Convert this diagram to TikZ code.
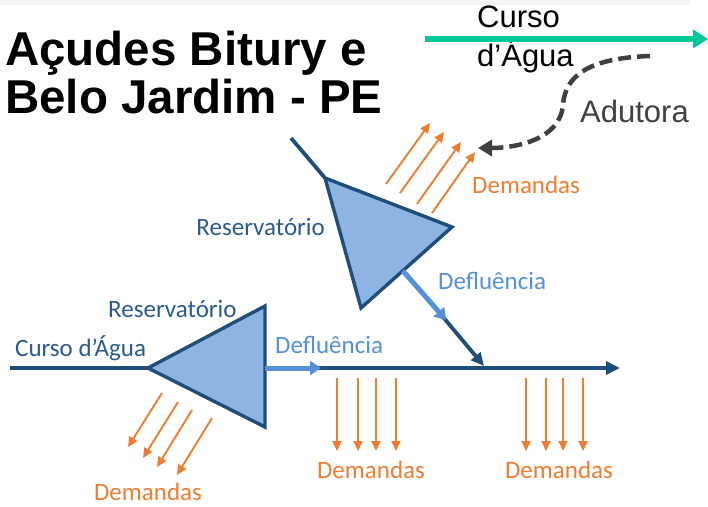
\documentclass[tikz,border=0pt]{standalone}
\usepackage{fontspec}
\setmainfont{Carlito}
\newfontfamily\arialf{Liberation Sans}
\usetikzlibrary{arrows.meta,calc}
\definecolor{rivblue}{HTML}{1F4E79}
\definecolor{resfill}{HTML}{8EB4E3}
\definecolor{defblue}{HTML}{5590D8}
\definecolor{demorange}{HTML}{ED7D31}
\definecolor{greenriver}{HTML}{00C896}
\definecolor{adgrey}{HTML}{404040}
\definecolor{labblue}{HTML}{2B5B8C}
\tikzset{
  river/.style={draw=rivblue, line width=3.8pt},
  riverarrow/.style={river, -{Triangle[length=14pt,width=13pt]}},
  resv/.style={draw=rivblue, fill=resfill, line width=3.4pt},
  dem/.style={draw=demorange, line width=1.9pt, -{Triangle[length=10pt,width=9pt]}},
  defl/.style={draw=defblue, line width=5pt, -{Triangle[length=11pt,width=14pt]}},
  lab/.style={inner sep=0pt, font=\fontsize{25}{25}\selectfont},
  deflab/.style={lab, text=defblue},
  demlab/.style={lab, text=demorange},
  reslab/.style={lab, text=labblue},
  titl/.style={inner sep=0pt, anchor=base west, font=\arialf\bfseries\fontsize{47.5}{47.5}\selectfont},
  toplab/.style={inner sep=0pt, anchor=base west, font=\arialf\fontsize{31}{31}\selectfont}
}
\begin{document}
\begin{tikzpicture}[x=1pt,y=-1pt]
\useasboundingbox (0,0) rectangle (708,506);
\clip (0,0) rectangle (708,506);

% title
\node[titl] (t1) at (5,65) {Açudes Bitury e};
\node[titl] (t2) at (5,113) {Belo Jardim - PE};

% top-right legend
\node[toplab] (curso1) at (477,27) {Curso};
\node[toplab] (curso2) at (477,66) {d’Água};
\fill[black!4] (0,0) rectangle (690,5);
\coordinate (g1) at (425,39);
\coordinate (g2) at (708,39);
\draw[greenriver, line width=6pt, -{Triangle[length=15pt,width=18pt]}] (g1) -- (g2);
\node[toplab, text=adgrey] (adut) at (580,122) {Adutora};
\coordinate (ad1) at (650,56);
\coordinate (ad2) at (563,105);
\coordinate (ad3) at (478,148);
\draw[adgrey, line width=4.5pt, dash pattern=on 13pt off 6pt, -{Triangle[length=14pt,width=16pt]}]
  (ad1) .. controls (590,58) and (565,75) .. (ad2) .. controls (560,140) and (515,148) .. (ad3);

% upper reservoir
\coordinate (ui) at (291,138);
\coordinate (ua) at (325,178);
\coordinate (ub) at (452,227);
\coordinate (uc) at (361,308);
\draw[river] (ui) -- (ua);
\draw[resv] (ua) -- (ub) -- (uc) -- cycle;
\coordinate (ud0) at ($(ub)!0.54!(uc)$);
\coordinate (ud1) at (446,320);
\coordinate (ud2) at (438,311);
\coordinate (ud3) at (484,366);
\draw[river, -{Triangle[length=13pt,width=12pt]}] (ud2) -- (ud3);
\draw[defl] (ud0) -- (ud1);
\node[reslab, anchor=east] (ures) at (325,227) {Reservatório};
\node[deflab, anchor=west] (udef) at (438,281) {Defluência};

% upper demands
\foreach \i/\sx/\sy/\ex/\ey in {1/386/184/430/123, 2/400/193/444/132, 3/417/204/461/142, 4/432/213/475/152}{
  \coordinate (us\i) at (\sx,\sy);
  \coordinate (ue\i) at (\ex,\ey);
  \draw[dem] (us\i) -- (ue\i);
}
\node[demlab, anchor=west] (udem) at (472,185) {Demandas};

% lower reservoir and main river
\coordinate (lw) at (10,368);
\coordinate (la) at (148,368);
\coordinate (lb) at (265,306);
\coordinate (lc) at (265,427);
\coordinate (ld0) at (265,368);
\coordinate (ld1) at (321,368);
\coordinate (ld2) at (310,368);
\coordinate (lend) at (620,368);
\draw[river] (lw) -- (la);
\draw[riverarrow] (ld2) -- (lend);
\draw[resv] (la) -- (lb) -- (lc) -- cycle;
\draw[defl] (ld0) -- (ld1);
\node[reslab, anchor=west] (lcur) at (15,348) {Curso d’Água};
\node[reslab, anchor=west] (lres) at (108,309) {Reservatório};
\node[deflab, anchor=west] (ldef) at (275,345) {Defluência};

% lower-left demands
\foreach \i/\sx/\sy/\ex/\ey in {1/162/393/128/447, 2/178/402/143/458, 3/192/410/157/467, 4/212/418/177/475}{
  \coordinate (ls\i) at (\sx,\sy);
  \coordinate (le\i) at (\ex,\ey);
  \draw[dem] (ls\i) -- (le\i);
}
\node[demlab] (ldem) at (148,492) {Demandas};

% middle and right demands
\foreach \i/\x in {1/337,2/358,3/376,4/396}{
  \coordinate (ms\i) at (\x,378);
  \coordinate (me\i) at (\x,451);
  \draw[dem] (ms\i) -- (me\i);
}
\node[demlab] (mdem) at (371,470) {Demandas};
\foreach \i/\x in {1/526,2/546,3/563,4/583}{
  \coordinate (rs\i) at (\x,378);
  \coordinate (re\i) at (\x,451);
  \draw[dem] (rs\i) -- (re\i);
}
\node[demlab] (rdem) at (559,470) {Demandas};
\end{tikzpicture}
\end{document}
